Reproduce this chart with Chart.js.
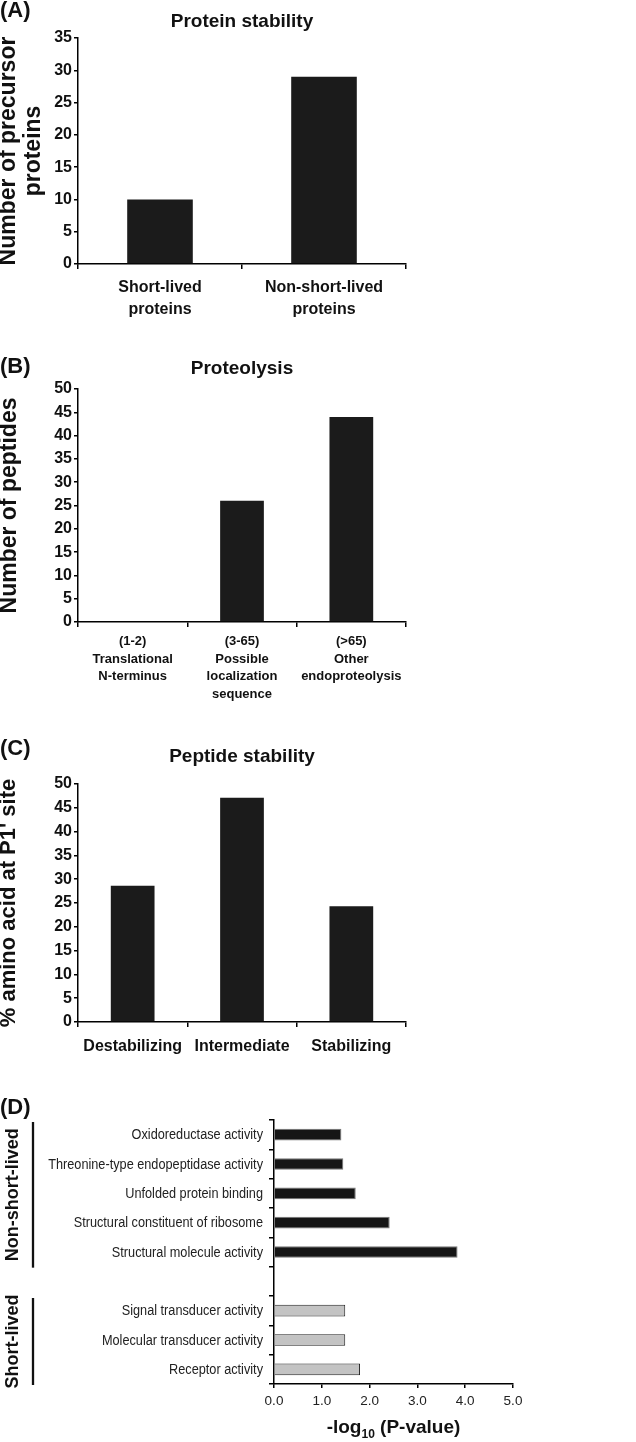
<!DOCTYPE html>
<html><head><meta charset="utf-8">
<script src="https://cdn.jsdelivr.net/npm/chart.js@4.4.1/dist/chart.umd.min.js"></script>
<style>
html,body{margin:0;padding:0;background:#fff;}
body{width:636px;height:1442px;position:relative;overflow:hidden;}
canvas{position:absolute;left:0;}
.pl{position:absolute;left:0;z-index:5;font:bold 22px/22px "Liberation Sans",Arial,sans-serif;color:#111;}
</style></head><body>
<canvas id="cA" width="484" height="330" style="top:0px"></canvas>
<canvas id="cB" width="484" height="370" style="top:340px"></canvas>
<canvas id="cC" width="484" height="360" style="top:720px"></canvas>
<canvas id="cD" width="636" height="352" style="top:1090px"></canvas>
<div class="pl" style="top:-1px">(A)</div>
<div class="pl" style="top:355px">(B)</div>
<div class="pl" style="top:737px">(C)</div>
<div class="pl" style="top:1096px">(D)</div>
<script>
// ---- Data ----
const catsA = [['Short-lived','proteins'], ['Non-short-lived','proteins']];
const valsA = [10, 29];
const catsB = [['(1-2)','Translational','N-terminus'], ['(3-65)','Possible','localization','sequence'], ['(>65)','Other','endoproteolysis']];
const valsB = [0, 26, 44];
const catsC = ['Destabilizing', 'Intermediate', 'Stabilizing'];
const valsC = [28.6, 47.1, 24.3];
const nonShortLabels = ['Oxidoreductase activity','Threonine-type endopeptidase activity','Unfolded protein binding','Structural constituent of ribosome','Structural molecule activity'];
const nonShortVals = [1.41, 1.45, 1.71, 2.42, 3.84];
const shortLabels = ['Signal transducer activity','Molecular transducer activity','Receptor activity'];
const shortVals = [1.49, 1.49, 1.80];
const groupNames = ['Non-short-lived', 'Short-lived'];

const F = '"Liberation Sans", Arial, sans-serif';
const INK = '#111';

function vbar(id, canvasTop, canvasH, labels, values, yMax, yStep, title, titleCenter, areaTop, areaBottom, yTitle, yTitleSize, yTitleShift, xFont, xLineH, xPad) {
  const tTop = titleCenter - canvasTop - 11.4;
  const tBot = areaTop - titleCenter - 11.4;
  new Chart(document.getElementById(id), {
    type: 'bar',
    data: { labels: labels, datasets: [{ data: values, backgroundColor: '#1b1b1b', borderWidth: 0, barPercentage: 0.4, categoryPercentage: 1 }] },
    options: {
      responsive: false, animation: false, devicePixelRatio: 1,
      layout: { padding: { top: 0, left: 0, right: 78, bottom: 0 } },
      plugins: {
        legend: { display: false }, tooltip: { enabled: false },
        title: { display: true, text: title, fullSize: false, color: INK,
                 font: { family: F, size: 19, weight: 'bold', lineHeight: 1.2 },
                 padding: { top: tTop, bottom: tBot } }
      },
      scales: {
        x: {
          border: { color: '#000', width: 1.5 },
          grid: { display: true, drawOnChartArea: false, drawTicks: true, tickLength: 5, color: '#000', lineWidth: 1.5, offset: true },
          ticks: { color: INK, font: { family: F, size: xFont, weight: 'bold', lineHeight: xLineH }, padding: xPad, maxRotation: 0, minRotation: 0, autoSkip: false },
          afterFit: s => { s.height = canvasH - (areaBottom - canvasTop); }
        },
        y: {
          min: 0, max: yMax,
          border: { color: '#000', width: 1.5 },
          grid: { display: true, drawOnChartArea: false, drawTicks: true, tickLength: 4, color: '#000', lineWidth: 1.5 },
          ticks: { stepSize: yStep, color: INK, font: { family: F, size: 16, weight: 'bold' }, padding: 2 },
          title: { display: true, text: yTitle, color: INK, font: { family: F, size: yTitleSize, weight: 'bold', lineHeight: 1.1 }, padding: { top: yTitleShift, bottom: 0 } },
          afterFit: s => { s.width = 78; }
        }
      }
    }
  });
}

vbar('cA', 0, 330, catsA, valsA, 35, 5, 'Protein stability', 22, 38, 264, ['Number of precursor', 'proteins'], 23, -4, 16, 1.4, 7);
vbar('cB', 340, 370, catsB, valsB, 50, 5, 'Proteolysis', 369, 389, 622, 'Number of peptides', 23, -3, 13, 1.35, 6);
vbar('cC', 720, 360, catsC, valsC, 50, 5, 'Peptide stability', 757, 784, 1022, "% amino acid at P1' site", 22, -3, 16, 1.4, 8);

// ---- Panel D ----
const labelsD = [...nonShortLabels, '', ...shortLabels];
const valsD = [...nonShortVals, null, ...shortVals];
const nN = nonShortLabels.length;
const fillD = labelsD.map((l, i) => i < nN ? '#161616' : '#c3c3c3');
const edgeD = labelsD.map((l, i) => i < nN ? '#777' : '#222');

const groupPlugin = {
  id: 'groupPlugin',
  afterDraw(chart) {
    const ctx = chart.ctx, ys = chart.scales.y, xs = chart.scales.x;
    const slot = (ys.bottom - ys.top) / labelsD.length;
    ctx.save();
    ctx.fillStyle = '#222';
    // condensed category labels placed on the category scale
    labelsD.forEach((lab, i) => {
      if (!lab) return;
      ctx.save();
      ctx.translate(ys.right - 11, ys.getPixelForTick(i) + 0.5);
      ctx.scale(0.82, 1);
      ctx.font = '15.5px ' + F;
      ctx.textAlign = 'right'; ctx.textBaseline = 'middle';
      ctx.fillText(lab, 0, 0);
      ctx.restore();
    });
    const groups = [[groupNames[0], 0, nN - 1], [groupNames[1], nN + 1, labelsD.length - 1]];
    ctx.fillStyle = INK; ctx.strokeStyle = INK;
    groups.forEach(g => {
      const y0 = ys.getPixelForTick(g[1]) - slot / 2 + 2;
      const y1 = ys.getPixelForTick(g[2]) + slot / 2 + 1;
      ctx.lineWidth = 2.3;
      ctx.beginPath(); ctx.moveTo(33, y0); ctx.lineTo(33, y1); ctx.stroke();
      ctx.save();
      ctx.translate(13, (y0 + y1) / 2);
      ctx.rotate(-Math.PI / 2);
      ctx.font = 'bold 18px ' + F;
      ctx.textAlign = 'center'; ctx.textBaseline = 'middle';
      ctx.fillText(g[0], 0, 0);
      ctx.restore();
    });
    // x-axis title with subscript
    const big = 'bold 19px ' + F, small = 'bold 12px ' + F;
    const p1 = '-log', p2 = '10', p3 = ' (P-value)';
    ctx.font = big; const w1 = ctx.measureText(p1).width, w3 = ctx.measureText(p3).width;
    ctx.font = small; const w2 = ctx.measureText(p2).width;
    const cx = (xs.left + xs.right) / 2;
    let x = cx - (w1 + w2 + w3) / 2;
    const base = xs.top + 49;
    ctx.textAlign = 'left'; ctx.textBaseline = 'alphabetic';
    ctx.font = big; ctx.fillText(p1, x, base); x += w1;
    ctx.font = small; ctx.fillText(p2, x, base + 5); x += w2;
    ctx.font = big; ctx.fillText(p3, x, base);
    ctx.restore();
  }
};

new Chart(document.getElementById('cD'), {
  type: 'bar',
  data: { labels: labelsD, datasets: [{ data: valsD, backgroundColor: fillD, borderColor: edgeD, borderWidth: 1, barPercentage: 0.4, categoryPercentage: 1 }] },
  options: {
    indexAxis: 'y', responsive: false, animation: false, devicePixelRatio: 1,
    layout: { padding: { top: 30, left: 0, right: 123, bottom: 0 } },
    plugins: { legend: { display: false }, tooltip: { enabled: false } },
    scales: {
      y: {
        border: { color: '#000', width: 1.5 },
        grid: { display: true, drawOnChartArea: false, drawTicks: true, tickLength: 5, color: '#000', lineWidth: 1.5, offset: true },
        ticks: { color: 'rgba(0,0,0,0)', font: { family: F, size: 13 }, padding: 6, autoSkip: false },
        afterFit: s => { s.width = 274; }
      },
      x: {
        min: 0, max: 5,
        border: { color: '#000', width: 1.5 },
        grid: { display: true, drawOnChartArea: false, drawTicks: true, tickLength: 4, color: '#000', lineWidth: 1.5 },
        ticks: { stepSize: 1, color: '#222', font: { family: F, size: 13.5 }, padding: 5, callback: v => Number(v).toFixed(1) },
        afterFit: s => { s.height = 58; }
      }
    }
  },
  plugins: [groupPlugin]
});
</script>
</body></html>
